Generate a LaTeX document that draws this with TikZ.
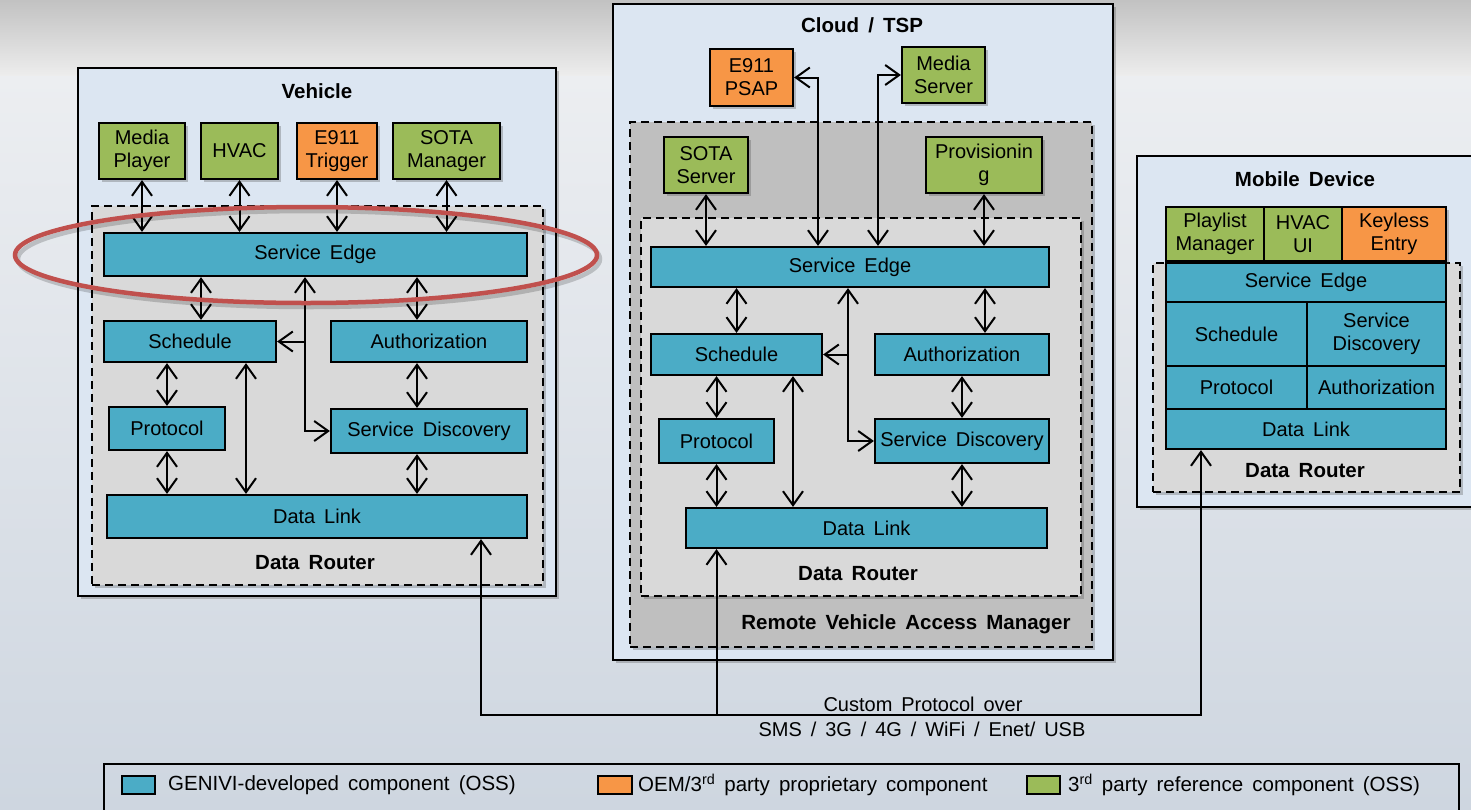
\documentclass[tikz,border=0pt]{standalone}
\usepackage{fontspec}
\setmainfont{Liberation Sans}[WordSpace=1.6]
\usetikzlibrary{arrows.meta,shadows}

\definecolor{gBlue}{HTML}{4BACC6}
\definecolor{gOrange}{HTML}{F79646}
\definecolor{gGreen}{HTML}{9BBB59}
\definecolor{zoneFill}{HTML}{DCE6F2}
\definecolor{routerFill}{HTML}{D9D9D9}
\definecolor{rvamFill}{HTML}{BFBFBF}
\definecolor{ringRed}{HTML}{C0504D}

% box from its corners: style, name, x1, y1, x2, y2, text
\newcommand\bx[7]{\node[#1,minimum width={(#5)-(#3)},minimum height={(#6)-(#4)}] (#2) at ({((#3)+(#5))/2},{((#4)+(#6))/2}) {#7};}

\tikzset{
  barb/.tip={Straight Barb[length=14pt,width=20pt]},
  shd/.style={drop shadow={shadow xshift=3pt,shadow yshift=-3pt,opacity=0.3,fill=black!70}},
  blk/.style={draw=black,line width=2.2pt,inner sep=1pt,align=center,
    font=\fontsize{20}{23}\selectfont},
  comp/.style={blk,fill=gBlue},
  oem/.style={blk,fill=gOrange,shd},
  refc/.style={blk,fill=gGreen,shd},
  zone/.style={draw=black,line width=2pt,fill=zoneFill,shd,inner sep=0pt},
  router/.style={draw=black,line width=2pt,dash pattern=on 8pt off 5pt,fill=routerFill,shd,inner sep=0pt},
  rvam/.style={router,fill=rvamFill},
  ttl/.style={font=\bfseries\fontsize{20.5}{23}\selectfont,inner sep=0pt},
  lbl/.style={font=\fontsize{20}{23}\selectfont,inner sep=0pt},
  leg/.style={font=\fontsize{20.5}{23}\selectfont,inner sep=0pt,anchor=west},
  swatch/.style={draw=black,line width=2pt,inner sep=0pt},
  dbl/.style={line width=2pt,barb-barb},
  fwd/.style={line width=2pt,-barb},
}

\begin{document}
\begin{tikzpicture}[x=1pt,y=-1pt]
\useasboundingbox (0,0) rectangle (1471,809);

% backdrop
\shade[top color=black!24,bottom color=black!7] (0,0) rectangle (1471,76);
\shade[top color={rgb,255:red,236;green,238;blue,241},bottom color={rgb,255:red,206;green,214;blue,224}] (0,76) rectangle (1471,809);

% ---------------- Vehicle ----------------
\bx{zone}{veh}{78}{68}{556}{596}{}
\node[ttl] (vehT) at (317,91) {Vehicle};
\bx{router}{vDR}{92}{206}{543}{585}{}
\bx{refc}{vMP}{99}{123}{185}{179}{Media\\Player}
\bx{refc}{vHV}{201}{123}{278}{179}{HVAC}
\bx{oem}{vET}{297}{123}{377}{179}{E911\\Trigger}
\bx{refc}{vSM}{393}{123}{500}{179}{SOTA\\Manager}
\bx{comp}{vSE}{104}{233}{527}{276}{Service Edge}
\bx{comp}{vSch}{104}{321}{276}{362}{Schedule}
\bx{comp}{vAuth}{331}{321}{527}{362}{Authorization}
\bx{comp}{vProt}{109}{407}{225}{450}{Protocol}
\bx{comp}{vSD}{331}{409}{527}{453}{Service Discovery}
\bx{comp}{vDL}{107}{495}{527}{538}{Data Link}
\node[ttl] (vDRT) at (315,563) {Data Router};

\coordinate (vx1) at (201,0);
\coordinate (vx2) at (305,0);
\coordinate (vx3) at (417,0);
\coordinate (vx4) at (246,0);

\draw[dbl] (vMP.south) -- (vSE.north -| vMP);
\draw[dbl] (vHV.south) -- (vSE.north -| vHV);
\draw[dbl] (vET.south) -- (vSE.north -| vET);
\draw[dbl] (vSM.south) -- (vSE.north -| vSM);
\draw[dbl] (vSE.south -| vx1) -- (vSch.north -| vx1);
\draw[dbl] (vSE.south -| vx3) -- (vAuth.north -| vx3);
\draw[dbl] (vSE.south -| vx2) -- (vSD.west -| vx2) -- (vSD.west);
\draw[fwd] (vSch.east -| vx2) -- (vSch.east);
\draw[dbl] (vSch.south -| vProt) -- (vProt.north);
\draw[dbl] (vProt.south) -- (vDL.north -| vProt);
\draw[dbl] (vSch.south -| vx4) -- (vDL.north -| vx4);
\draw[dbl] (vAuth.south -| vx3) -- (vSD.north -| vx3);
\draw[dbl] (vSD.south -| vx3) -- (vDL.north -| vx3);

% highlight ring round the vehicle service edge
\draw[black,opacity=0.18,line width=4.5pt] (309,259) ellipse [x radius=291, y radius=48];
\draw[ringRed,line width=4.5pt] (306,255) ellipse [x radius=291, y radius=48];

% ---------------- Cloud / TSP ----------------
\bx{zone}{cloud}{613}{4}{1113}{660}{}
\node[ttl] (cloudT) at (862,25) {Cloud / TSP};
\bx{rvam}{cRV}{630}{122}{1092}{647}{}
\bx{router}{cDR}{641}{218}{1081}{596}{}
\bx{oem}{cPSAP}{710}{49}{793}{106}{E911\\PSAP}
\bx{refc}{cMS}{902}{47}{985}{103}{Media\\Server}
\bx{refc}{cSS}{664}{137}{748}{193}{SOTA\\Server}
\bx{refc}{cPV}{926}{137}{1042}{193}{Provisionin\\g}
\bx{comp}{cSE}{651}{247}{1049}{287}{Service Edge}
\bx{comp}{cSch}{651}{334}{822}{375}{Schedule}
\bx{comp}{cAuth}{875}{334}{1049}{375}{Authorization}
\bx{comp}{cProt}{659}{419}{774}{463}{Protocol}
\bx{comp}{cSD}{875}{419}{1049}{463}{Service Discovery}
\bx{comp}{cDL}{686}{508}{1047}{548}{Data Link}
\node[ttl] (cDRT) at (858,574) {Data Router};
\node[ttl] (cRVT) at (906,624) {Remote Vehicle Access Manager};

\coordinate (cx1) at (818,0);
\coordinate (cx2) at (878,0);
\coordinate (cx3) at (848,0);
\coordinate (cx4) at (985,0);
\coordinate (cx5) at (793,0);

\draw[dbl] (cSS.south) -- (cSE.north -| cSS);
\draw[dbl] (cPV.south) -- (cSE.north -| cPV);
\draw[dbl] (cSE.north -| cx1) -- (cPSAP.east -| cx1) -- (cPSAP.east);
\draw[dbl] (cSE.north -| cx2) -- (cMS.west -| cx2) -- (cMS.west);
\draw[dbl] (cSE.south -| cSch) -- (cSch.north);
\draw[dbl] (cSE.south -| cx4) -- (cAuth.north -| cx4);
\draw[dbl] (cSE.south -| cx3) -- (cSD.west -| cx3) -- (cSD.west);
\draw[fwd] (cSch.east -| cx3) -- (cSch.east);
\draw[dbl] (cSch.south -| cProt) -- (cProt.north);
\draw[dbl] (cProt.south) -- (cDL.north -| cProt);
\draw[dbl] (cSch.south -| cx5) -- (cDL.north -| cx5);
\draw[dbl] (cAuth.south) -- (cSD.north -| cAuth);
\draw[dbl] (cSD.south) -- (cDL.north -| cSD);

% ---------------- Mobile Device ----------------
\bx{zone}{mob}{1137}{156}{1490}{507}{}
\node[ttl] (mobT) at (1305,179) {Mobile Device};
\bx{router}{mDR}{1153}{263}{1460}{492}{}
\bx{refc}{mPL}{1166}{207}{1264}{261}{Playlist\\Manager}
\bx{refc}{mHV}{1264}{207}{1342}{261}{HVAC\\UI}
\bx{oem}{mKE}{1342}{207}{1446}{261}{Keyless\\Entry}
\bx{comp}{mSE}{1166}{263}{1446}{302}{Service Edge}
\bx{comp}{mSch}{1166}{302}{1307}{366}{Schedule}
\bx{comp}{mSD}{1307}{302}{1446}{366}{Service\\Discovery}
\bx{comp}{mProt}{1166}{366}{1307}{409}{Protocol}
\bx{comp}{mAuth}{1307}{366}{1446}{409}{Authorization}
\bx{comp}{mDL}{1166}{409}{1446}{449}{Data Link}
\node[ttl] (mDRT) at (1305,471) {Data Router};

% ---------------- transport ----------------
\coordinate (busL) at (481,715);
\coordinate (busR) at (1201,715);
\draw[dbl] (vDL.south -| busL) -- (busL) -- (busR) -- (mDL.south -| busR);
\draw[fwd] (cProt |- busL) -- (cDL.south -| cProt);
\node[lbl] (proto1) at (923,704) {Custom Protocol over};
\node[lbl] (proto2) at (922,729) {SMS / 3G / 4G / WiFi / Enet/ USB};

% ---------------- legend ----------------
\bx{swatch}{legend}{104}{764}{1459}{830}{}
\bx{swatch,fill=gBlue}{lgB}{122}{776}{155}{794}{}
\bx{swatch,fill=gOrange}{lgO}{598}{776}{632}{794}{}
\bx{swatch,fill=gGreen}{lgG}{1027}{776}{1060}{794}{}
\node[leg] (lgBt) at (168,785) {GENIVI-developed component (OSS)};
\node[leg] (lgOt) at (638,785) {OEM/3\textsuperscript{rd} party proprietary component};
\node[leg] (lgGt) at (1068,785) {3\textsuperscript{rd} party reference component (OSS)};
\end{tikzpicture}
\end{document}
